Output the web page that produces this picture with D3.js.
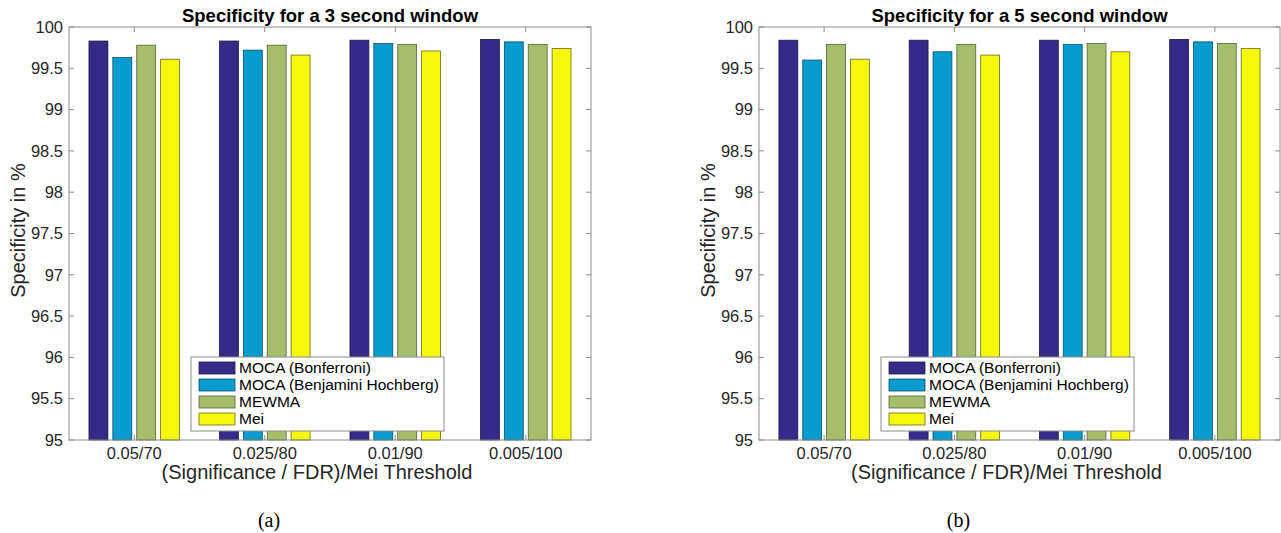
<!DOCTYPE html>
<html>
<head>
<meta charset="utf-8">
<script src="https://cdn.jsdelivr.net/npm/d3@7"></script>
<style>
  body { margin: 0; background: #fff; }
  svg text { font-family: Helvetica, Arial, "Liberation Sans", sans-serif; fill: #262626; }
</style>
</head>
<body>
<svg id="chart" width="1281" height="533"></svg>
<script>
// --- data ---
const categories = ["0.05/70", "0.025/80", "0.01/90", "0.005/100"];
const seriesNames = ["MOCA (Bonferroni)", "MOCA (Benjamini Hochberg)", "MEWMA", "Mei"];
const seriesColors = ["#352a87", "#079cd0", "#a5be6b", "#f7f70c"];
const seriesEdges = ["#1e1a4a", "#0b4f6a", "#555f3a", "#6b6b20"];
const yTicks = [95, 95.5, 96, 96.5, 97, 97.5, 98, 98.5, 99, 99.5, 100];

// 3 second window
const bonf3 = [99.83, 99.83, 99.84, 99.85];
const bh3 = [99.63, 99.72, 99.80, 99.82];
const mewma3 = [99.78, 99.78, 99.79, 99.79];
const mei3 = [99.61, 99.66, 99.71, 99.74];

// 5 second window
const bonf5 = [99.84, 99.84, 99.84, 99.85];
const bh5 = [99.60, 99.70, 99.79, 99.82];
const mewma5 = [99.79, 99.79, 99.80, 99.80];
const mei5 = [99.61, 99.66, 99.70, 99.74];

const svg = d3.select("#chart");

function drawPanel(left, right, title, series, caption) {
    const top = 27, bottom = 440;
    const g = svg.append("g");

    const x = d3.scaleLinear().domain([0.5, categories.length + 0.5]).range([left, right]);
    const y = d3.scaleLinear().domain([95, 100]).range([bottom, top]);

    const pitch = 0.183;   // distance between bars in a group (x units)
    const barW = 0.145;

    // bars
    series.forEach((vals, si) => {
        g.selectAll(null)
            .data(vals)
            .enter()
            .append("rect")
            .attr("x", (d, i) => x(i + 1 + (si - 1.5) * pitch - barW / 2))
            .attr("width", x(barW) - x(0))
            .attr("y", d => y(d))
            .attr("height", d => y(95) - y(d))
            .attr("fill", seriesColors[si])
            .attr("stroke", seriesEdges[si])
            .attr("stroke-width", 0.8);
    });

    // box + ticks (inward, on all sides like matlab)
    const axisCol = "#8c8c8c";
    g.append("rect")
        .attr("x", left).attr("y", top)
        .attr("width", right - left).attr("height", bottom - top)
        .attr("fill", "none").attr("stroke", axisCol).attr("stroke-width", 1);

    const tl = 5;
    yTicks.forEach(t => {
        g.append("line").attr("x1", left).attr("x2", left + tl).attr("y1", y(t)).attr("y2", y(t)).attr("stroke", axisCol);
        g.append("line").attr("x1", right).attr("x2", right - tl).attr("y1", y(t)).attr("y2", y(t)).attr("stroke", axisCol);
        g.append("text")
            .attr("x", left - 6).attr("y", y(t))
            .attr("dy", "0.35em")
            .attr("text-anchor", "end")
            .style("font-size", "16.5px")
            .text(d3.format("")(t));
    });

    categories.forEach((c, i) => {
        const cx = x(i + 1);
        g.append("line").attr("x1", cx).attr("x2", cx).attr("y1", bottom).attr("y2", bottom - tl).attr("stroke", axisCol);
        g.append("line").attr("x1", cx).attr("x2", cx).attr("y1", top).attr("y2", top + tl).attr("stroke", axisCol);
        g.append("text")
            .attr("x", cx).attr("y", 453)
            .attr("dy", "0.35em")
            .attr("text-anchor", "middle")
            .style("font-size", "16.5px")
            .text(c);
    });

    const midX = (left + right) / 2;
    // title
    g.append("text")
        .attr("x", midX).attr("y", 22)
        .attr("text-anchor", "middle")
        .style("font-size", "18.5px")
        .style("font-weight", "bold")
        .style("fill", "#000")
        .text(title);

    // axis labels
    g.append("text")
        .attr("x", midX - 13).attr("y", 472)
        .attr("dy", "0.35em")
        .attr("text-anchor", "middle")
        .style("font-size", "20px")
        .text("(Significance / FDR)/Mei Threshold");

    g.append("text")
        .attr("transform", `translate(${left - 51},${(top + bottom) / 2 - 3}) rotate(-90)`)
        .attr("text-anchor", "middle")
        .attr("dy", "0.35em")
        .style("font-size", "20px")
        .text("Specificity in %");

    // legend
    const lx = left + 122, ly = 357, lw = 253, lh = 74;
    const leg = g.append("g");
    leg.append("rect")
        .attr("x", lx).attr("y", ly).attr("width", lw).attr("height", lh)
        .attr("fill", "#fff").attr("stroke", axisCol);
    seriesNames.forEach((name, i) => {
        const ry = ly + 11 + i * 17;
        leg.append("rect")
            .attr("x", lx + 8).attr("y", ry - 6)
            .attr("width", 36).attr("height", 12)
            .attr("fill", seriesColors[i])
            .attr("stroke", seriesEdges[i]).attr("stroke-width", 0.8);
        leg.append("text")
            .attr("x", lx + 48).attr("y", ry)
            .attr("dy", "0.35em")
            .style("font-size", "15.5px")
            .style("fill", "#000")
            .text(name);
    });

    // caption
    svg.append("text")
        .attr("x", midX - 61).attr("y", 520)
        .attr("dy", "0.35em")
        .attr("text-anchor", "middle")
        .style("font-family", "'Liberation Serif', 'Times New Roman', serif")
        .style("font-size", "20px")
        .style("fill", "#000")
        .text(caption);
}

drawPanel(69, 591, "Specificity for a 3 second window", [bonf3, bh3, mewma3, mei3], "(a)");
drawPanel(759, 1280, "Specificity for a 5 second window", [bonf5, bh5, mewma5, mei5], "(b)");
</script>
</body>
</html>
